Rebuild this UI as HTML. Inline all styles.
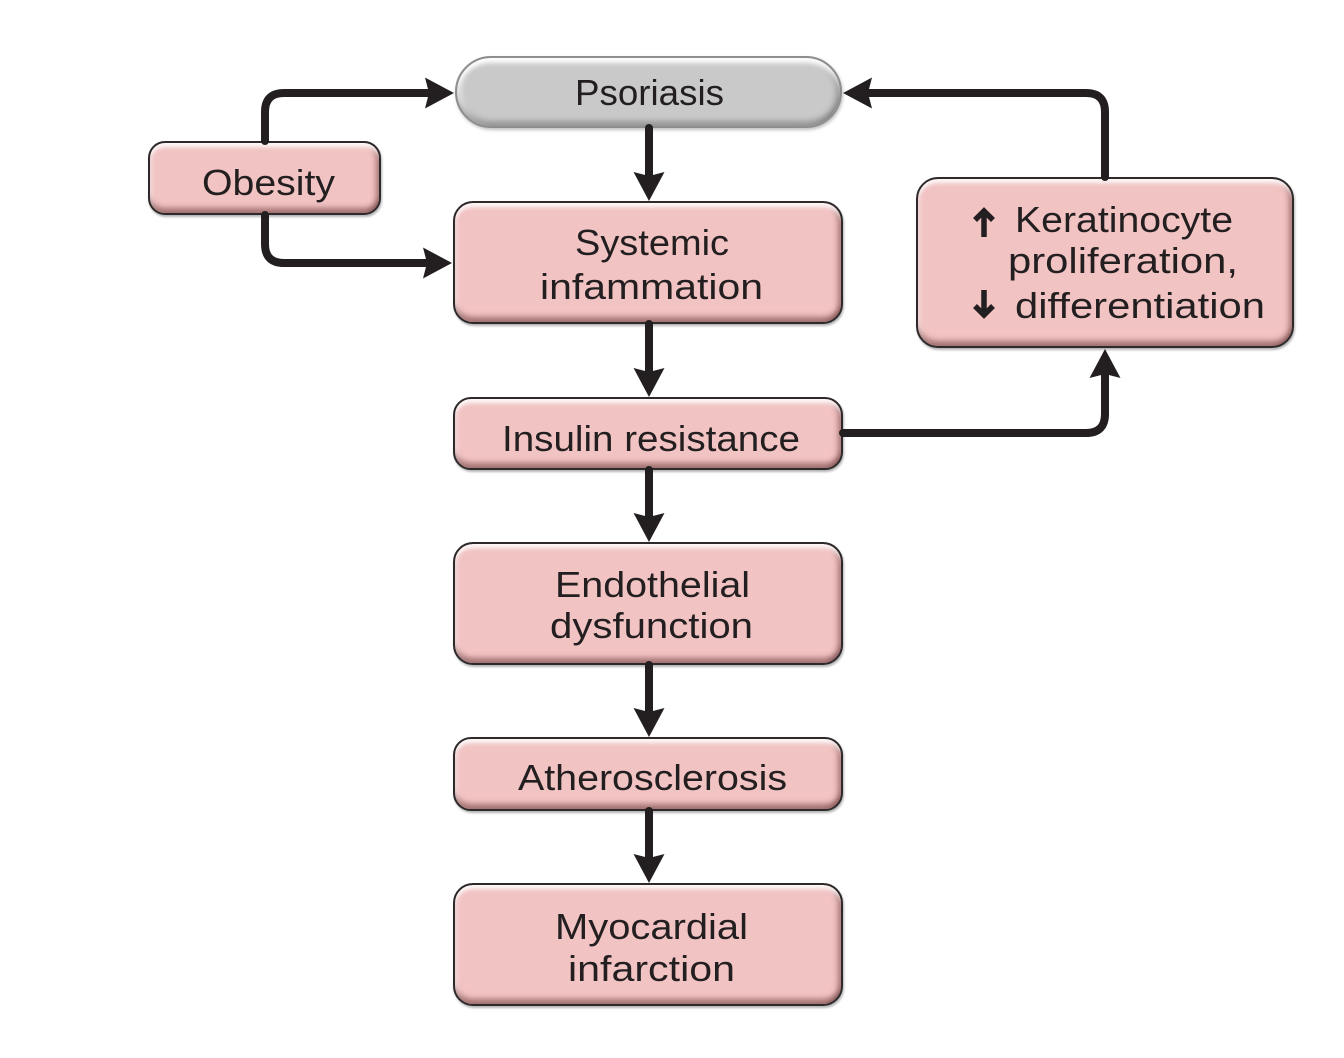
<!DOCTYPE html>
<html>
<head>
<meta charset="utf-8">
<style>
html,body{margin:0;padding:0;background:#fff;}
body{width:1344px;height:1058px;position:relative;overflow:hidden;}
.b{position:absolute;box-sizing:border-box;background:#f2c3c3;border:2px solid #2e2a2b;
box-shadow: inset 0 7px 4px -3px rgba(255,255,255,.9), inset 0 -8px 6px -3px rgba(110,60,60,.6), inset 6px 0 5px -4px rgba(255,255,255,.55), inset -7px 0 6px -4px rgba(110,60,60,.55), 1px 2px 2px rgba(0,0,0,.3);}
.g{background:#c9c9c9;border:2px solid #8e8e8e;
box-shadow: inset 0 8px 5px -3px rgba(255,255,255,.95), inset 0 -8px 6px -3px rgba(90,90,90,.45), inset 8px 0 6px -4px rgba(255,255,255,.6), inset -8px 0 6px -4px rgba(90,90,90,.4), 1px 2px 3px rgba(0,0,0,.25);}
svg{position:absolute;left:0;top:0;}
text{font-family:"Liberation Sans",sans-serif;font-size:36px;fill:#231f20;}
</style>
</head>
<body>
<div class="b g" style="left:455px;top:56px;width:387px;height:72px;border-radius:36px;"></div>
<div class="b" style="left:148px;top:141px;width:233px;height:74px;border-radius:17px;"></div>
<div class="b" style="left:453px;top:201px;width:390px;height:123px;border-radius:20px;"></div>
<div class="b" style="left:453px;top:397px;width:390px;height:73px;border-radius:18px;"></div>
<div class="b" style="left:453px;top:542px;width:390px;height:123px;border-radius:20px;"></div>
<div class="b" style="left:453px;top:737px;width:390px;height:74px;border-radius:18px;"></div>
<div class="b" style="left:453px;top:883px;width:390px;height:123px;border-radius:20px;"></div>
<div class="b" style="left:916px;top:177px;width:378px;height:171px;border-radius:22px;"></div>

<svg width="1344" height="1058" viewBox="0 0 1344 1058">
<g fill="none" stroke="#231f20" stroke-width="8" stroke-linecap="round" stroke-linejoin="round">
<path d="M265,141 V112 Q265,93 284,93 H428"/>
<path d="M265,215 V244 Q265,263 284,263 H426"/>
<path d="M649,128 V176"/>
<path d="M649,324 V372"/>
<path d="M649,470 V517"/>
<path d="M649,665 V712"/>
<path d="M649,811 V858"/>
<path d="M843,433 H1086 Q1105,433 1105,414 V375"/>
<path d="M1105,177 V112 Q1105,93 1086,93 H869"/>
</g>
<g fill="#231f20">
<path d="M454,93 L425,77.5 L429,93 L425,108.5 Z"/>
<path d="M452,263 L423,247.5 L427,263 L423,278.5 Z"/>
<path d="M649,201 L633.5,172 L649,176 L664.5,172 Z"/>
<path d="M649,397 L633.5,368 L649,372 L664.5,368 Z"/>
<path d="M649,542 L633.5,513 L649,517 L664.5,513 Z"/>
<path d="M649,737 L633.5,708 L649,712 L664.5,708 Z"/>
<path d="M649,883 L633.5,854 L649,858 L664.5,854 Z"/>
<path d="M1105,349 L1089.5,378 L1105,374 L1120.5,378 Z"/>
<path d="M843,93 L872,77.5 L868,93 L872,108.5 Z"/>
</g>
<g fill="none" stroke="#231f20" stroke-width="5.5" stroke-linecap="butt" stroke-linejoin="miter">
<path d="M984,212 V237"/>
<path d="M975,220 L984,211 L993,220"/>
<path d="M984,290 V314"/>
<path d="M975,306 L984,315 L993,306"/>
</g>
<text x="575" y="105" textLength="149" lengthAdjust="spacingAndGlyphs">Psoriasis</text>
<text x="202" y="195" textLength="133" lengthAdjust="spacingAndGlyphs">Obesity</text>
<text x="575" y="255" textLength="154" lengthAdjust="spacingAndGlyphs">Systemic</text>
<text x="540" y="299" textLength="223" lengthAdjust="spacingAndGlyphs">infammation</text>
<text x="502" y="451" textLength="298" lengthAdjust="spacingAndGlyphs">Insulin resistance</text>
<text x="555" y="597" textLength="195" lengthAdjust="spacingAndGlyphs">Endothelial</text>
<text x="550" y="638" textLength="203" lengthAdjust="spacingAndGlyphs">dysfunction</text>
<text x="518" y="790" textLength="269" lengthAdjust="spacingAndGlyphs">Atherosclerosis</text>
<text x="555" y="939" textLength="193" lengthAdjust="spacingAndGlyphs">Myocardial</text>
<text x="568" y="981" textLength="167" lengthAdjust="spacingAndGlyphs">infarction</text>
<text x="1015" y="232" textLength="218" lengthAdjust="spacingAndGlyphs">Keratinocyte</text>
<text x="1008" y="273" textLength="230" lengthAdjust="spacingAndGlyphs">proliferation,</text>
<text x="1015" y="318" textLength="250" lengthAdjust="spacingAndGlyphs">differentiation</text>
</svg>
</body>
</html>
